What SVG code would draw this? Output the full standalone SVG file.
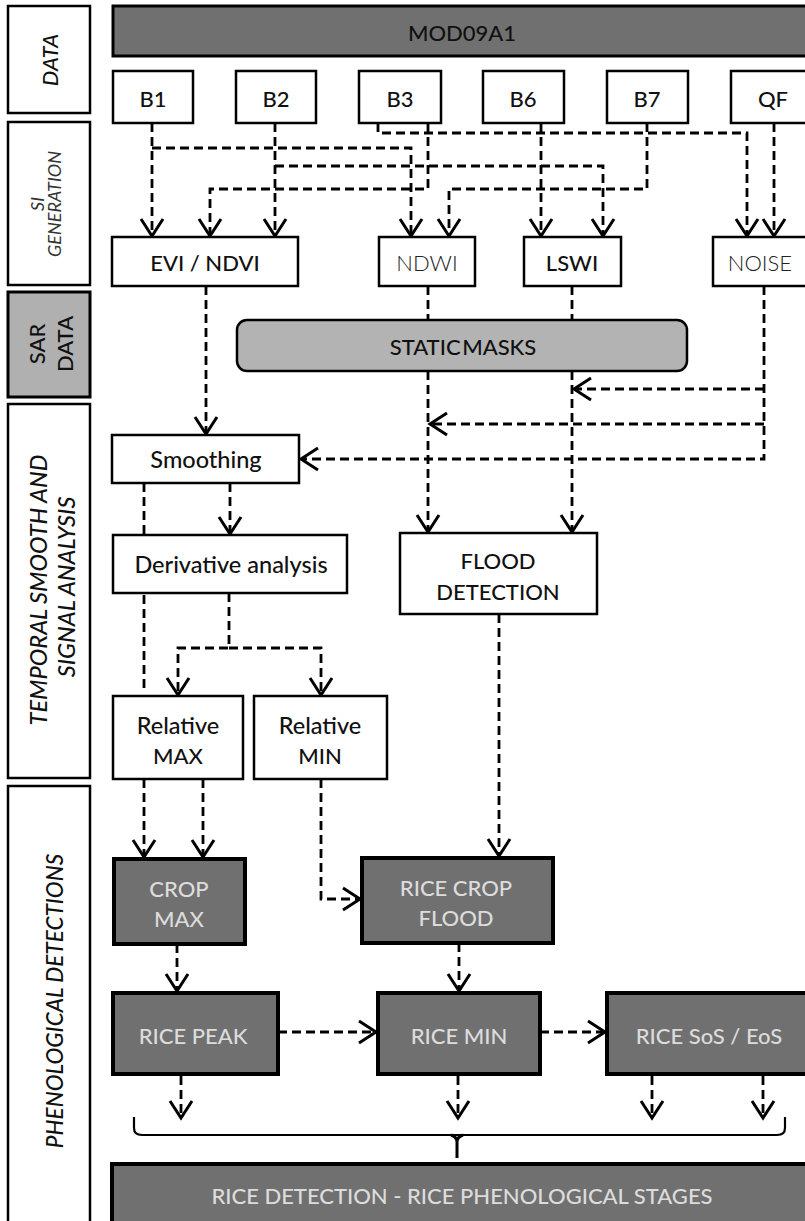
<svg xmlns="http://www.w3.org/2000/svg" width="805" height="1221" viewBox="0 0 805 1221">
  <defs>
    <marker id="arrow" viewBox="-22 -14 26 28" refX="0" refY="0" markerWidth="26" markerHeight="28" markerUnits="userSpaceOnUse" orient="auto" overflow="visible">
      <path d="M-17,-11 L0,0 L-17,11" fill="none" stroke="#000" stroke-width="3" stroke-dasharray="none"/>
    </marker>
    <style>
      .side { fill: #fff; stroke: #000; stroke-width: 2.5; }
      .side-grey { fill: #b0b0b0; stroke: #000; stroke-width: 3; }
      .box { fill: #fff; stroke: #000; stroke-width: 2.5; }
      .dark { fill: #707070; stroke: #000; stroke-width: 4; }
      .bar { fill: #707070; stroke: #000; stroke-width: 3; }
      .mask { fill: #b3b3b3; stroke: #000; stroke-width: 2.5; }
      text { font-family: Lato, "Liberation Sans", sans-serif; text-anchor: middle; dominant-baseline: central; fill: #111; font-weight: 500; }
      .lbl { font-size: 22px; }
      .mixed { font-size: 23.5px; }
      .thin { font-size: 22px; font-weight: 300; fill: #222; }
      .light { font-size: 22px; fill: #dcdcdc; }
      .sidelbl { font-size: 22px; font-style: italic; }
      .sidesmall { font-size: 18px; font-style: italic; fill: #333; font-weight: 400; }
      .link { fill: none; stroke: #000; stroke-width: 2.8; stroke-dasharray: 9 5; }
      .link-arrow { fill: none; stroke: #000; stroke-width: 2.8; stroke-dasharray: 9 5; marker-end: url(#arrow); }
      .brace { fill: none; stroke: #000; stroke-width: 2.2; }
    </style>
  </defs>

  <!-- stage column -->
  <g id="stage-data">
    <rect class="side" x="8" y="6" width="82" height="107"/>
    <text class="sidelbl" transform="translate(49,60) rotate(-90)">DATA</text>
  </g>
  <g id="stage-si">
    <rect class="side" x="8" y="122" width="82" height="163"/>
    <text class="sidesmall" transform="translate(37,204) rotate(-90)">SI</text>
    <text class="sidesmall" transform="translate(54,204) rotate(-90)">GENERATION</text>
  </g>
  <g id="stage-sar">
    <rect class="side-grey" x="8" y="292" width="82" height="105"/>
    <text class="sidelbl" style="font-style:normal" transform="translate(36,344) rotate(-90)">SAR</text>
    <text class="sidelbl" style="font-style:normal" transform="translate(64,344) rotate(-90)">DATA</text>
  </g>
  <g id="stage-temporal">
    <rect class="side" x="8" y="404" width="82" height="374"/>
    <text class="sidelbl" style="font-size:23.5px" transform="translate(38,590) rotate(-90)">TEMPORAL SMOOTH AND</text>
    <text class="sidelbl" style="font-size:23.5px" transform="translate(66,587) rotate(-90)">SIGNAL ANALYSIS</text>
  </g>
  <g id="stage-pheno">
    <rect class="side" x="8" y="786" width="82" height="450"/>
    <text class="sidelbl" style="font-size:22.5px" transform="translate(54,1001) rotate(-90)">PHENOLOGICAL DETECTIONS</text>
  </g>

  <!-- connectors -->
  <g id="connectors">
    <!-- band inputs to spectral indices -->
    <path class="link-arrow" d="M152,123 V236"/>
    <path class="link-arrow" d="M152,148 H411 V236"/>
    <path class="link-arrow" d="M275,123 V236"/>
    <path class="link-arrow" d="M275,166 H603 V236"/>
    <path class="link-arrow" d="M428,123 V189 H210 V236"/>
    <path class="link-arrow" d="M378,123 V133 H747 V236"/>
    <path class="link-arrow" d="M541,123 V236"/>
    <path class="link-arrow" d="M647,123 V189 H449 V236"/>
    <path class="link-arrow" d="M774,123 V236"/>
    <!-- indices downwards -->
    <path class="link-arrow" d="M206,286 V434"/>
    <path class="link" d="M428,286 V320"/>
    <path class="link-arrow" d="M428,371 V532"/>
    <path class="link" d="M572,286 V320"/>
    <path class="link-arrow" d="M572,371 V532"/>
    <!-- noise feed -->
    <path class="link-arrow" d="M764,286 V459 H301"/>
    <path class="link-arrow" d="M764,389 H574"/>
    <path class="link-arrow" d="M764,424 H430"/>
    <!-- smoothing and derivatives -->
    <path class="link" d="M144,483 V692"/>
    <path class="link-arrow" d="M230,483 V534"/>
    <path class="link-arrow" d="M229,593 V648 H178 V695"/>
    <path class="link-arrow" d="M229,648 H321 V695"/>
    <path class="link-arrow" d="M144,779 V857"/>
    <path class="link-arrow" d="M203,779 V857"/>
    <path class="link-arrow" d="M321,779 V899 H360"/>
    <path class="link-arrow" d="M499,614 V856"/>
    <!-- phenological chain -->
    <path class="link-arrow" d="M177,944 V991"/>
    <path class="link-arrow" d="M459,943 V991"/>
    <path class="link-arrow" d="M278,1032 H376"/>
    <path class="link-arrow" d="M540,1032 H605"/>
    <path class="link-arrow" d="M181,1076 V1118"/>
    <path class="link-arrow" d="M458,1076 V1118"/>
    <path class="link-arrow" d="M652,1076 V1118"/>
    <path class="link-arrow" d="M763,1076 V1118"/>
    <!-- brace gathering the stages -->
    <path class="brace" d="M134,1117 V1128 Q134,1135 142,1135 H777 Q785,1135 785,1128 V1117"/>
    <path class="brace" d="M451,1135 Q457,1137 457,1142 Q457,1137 463,1135 M457,1140 V1158" style="stroke-width:3"/>
  </g>

  <!-- data -->
  <g id="mod09a1">
    <rect class="bar" x="113" y="6" width="705" height="50"/>
    <text class="lbl" x="462" y="32">MOD09A1</text>
  </g>
  <g id="b1"><rect class="box" x="113" y="71" width="80" height="52"/><text class="lbl" x="153" y="98">B1</text></g>
  <g id="b2"><rect class="box" x="236" y="71" width="80" height="52"/><text class="lbl" x="276" y="98">B2</text></g>
  <g id="b3"><rect class="box" x="359" y="71" width="82" height="52"/><text class="lbl" x="400" y="98">B3</text></g>
  <g id="b6"><rect class="box" x="483" y="71" width="81" height="52"/><text class="lbl" x="523" y="98">B6</text></g>
  <g id="b7"><rect class="box" x="607" y="71" width="81" height="52"/><text class="lbl" x="647" y="98">B7</text></g>
  <g id="qf"><rect class="box" x="731" y="71" width="84" height="52"/><text class="lbl" x="773" y="98">QF</text></g>

  <!-- spectral indices -->
  <g id="evi-ndvi"><rect class="box" x="112" y="237" width="186" height="49"/><text class="lbl" x="205" y="262">EVI / NDVI</text></g>
  <g id="ndwi"><rect class="box" x="379" y="237" width="96" height="49"/><text class="thin" x="427" y="262">NDWI</text></g>
  <g id="lswi"><rect class="box" x="524" y="237" width="97" height="49"/><text class="lbl" x="572" y="262">LSWI</text></g>
  <g id="noise"><rect class="box" x="713" y="237" width="100" height="49"/><text class="thin" x="760" y="262">NOISE</text></g>

  <!-- SAR masks -->
  <g id="static-masks">
    <rect class="mask" x="237" y="320" width="450" height="51" rx="10"/>
    <text class="lbl" x="463" y="346" style="word-spacing:-4px">STATIC MASKS</text>
  </g>

  <!-- temporal smoothing and signal analysis -->
  <g id="smoothing"><rect class="box" x="112" y="435" width="187" height="48"/><text class="mixed" x="206" y="459">Smoothing</text></g>
  <g id="derivative"><rect class="box" x="113" y="535" width="234" height="58"/><text class="mixed" x="231" y="564">Derivative analysis</text></g>
  <g id="flood-detection">
    <rect class="box" x="400" y="533" width="197" height="81"/>
    <text class="lbl" x="498" y="560">FLOOD</text>
    <text class="lbl" x="498" y="591">DETECTION</text>
  </g>
  <g id="relative-max">
    <rect class="box" x="113" y="696" width="130" height="83"/>
    <text class="mixed" x="178" y="725">Relative</text>
    <text class="lbl" x="178" y="755">MAX</text>
  </g>
  <g id="relative-min">
    <rect class="box" x="254" y="696" width="133" height="83"/>
    <text class="mixed" x="320" y="725">Relative</text>
    <text class="lbl" x="320" y="755">MIN</text>
  </g>

  <!-- phenological detections -->
  <g id="crop-max">
    <rect class="dark" x="114" y="859" width="131" height="85"/>
    <text class="light" x="179" y="888">CROP</text>
    <text class="light" x="179" y="918">MAX</text>
  </g>
  <g id="rice-crop-flood">
    <rect class="dark" x="362" y="858" width="191" height="85"/>
    <text class="light" x="456" y="887">RICE CROP</text>
    <text class="light" x="456" y="917">FLOOD</text>
  </g>
  <g id="rice-peak"><rect class="dark" x="113" y="993" width="165" height="81"/><text class="light" x="193" y="1035">RICE PEAK</text></g>
  <g id="rice-min"><rect class="dark" x="378" y="993" width="162" height="81"/><text class="light" x="459" y="1035">RICE MIN</text></g>
  <g id="rice-sos-eos"><rect class="dark" x="607" y="993" width="210" height="81"/><text class="light" x="709" y="1035">RICE SoS / EoS</text></g>
  <g id="rice-detection">
    <rect class="dark" x="112" y="1164" width="710" height="62"/>
    <text class="light" x="462" y="1195">RICE DETECTION - RICE PHENOLOGICAL STAGES</text>
  </g>
</svg>
